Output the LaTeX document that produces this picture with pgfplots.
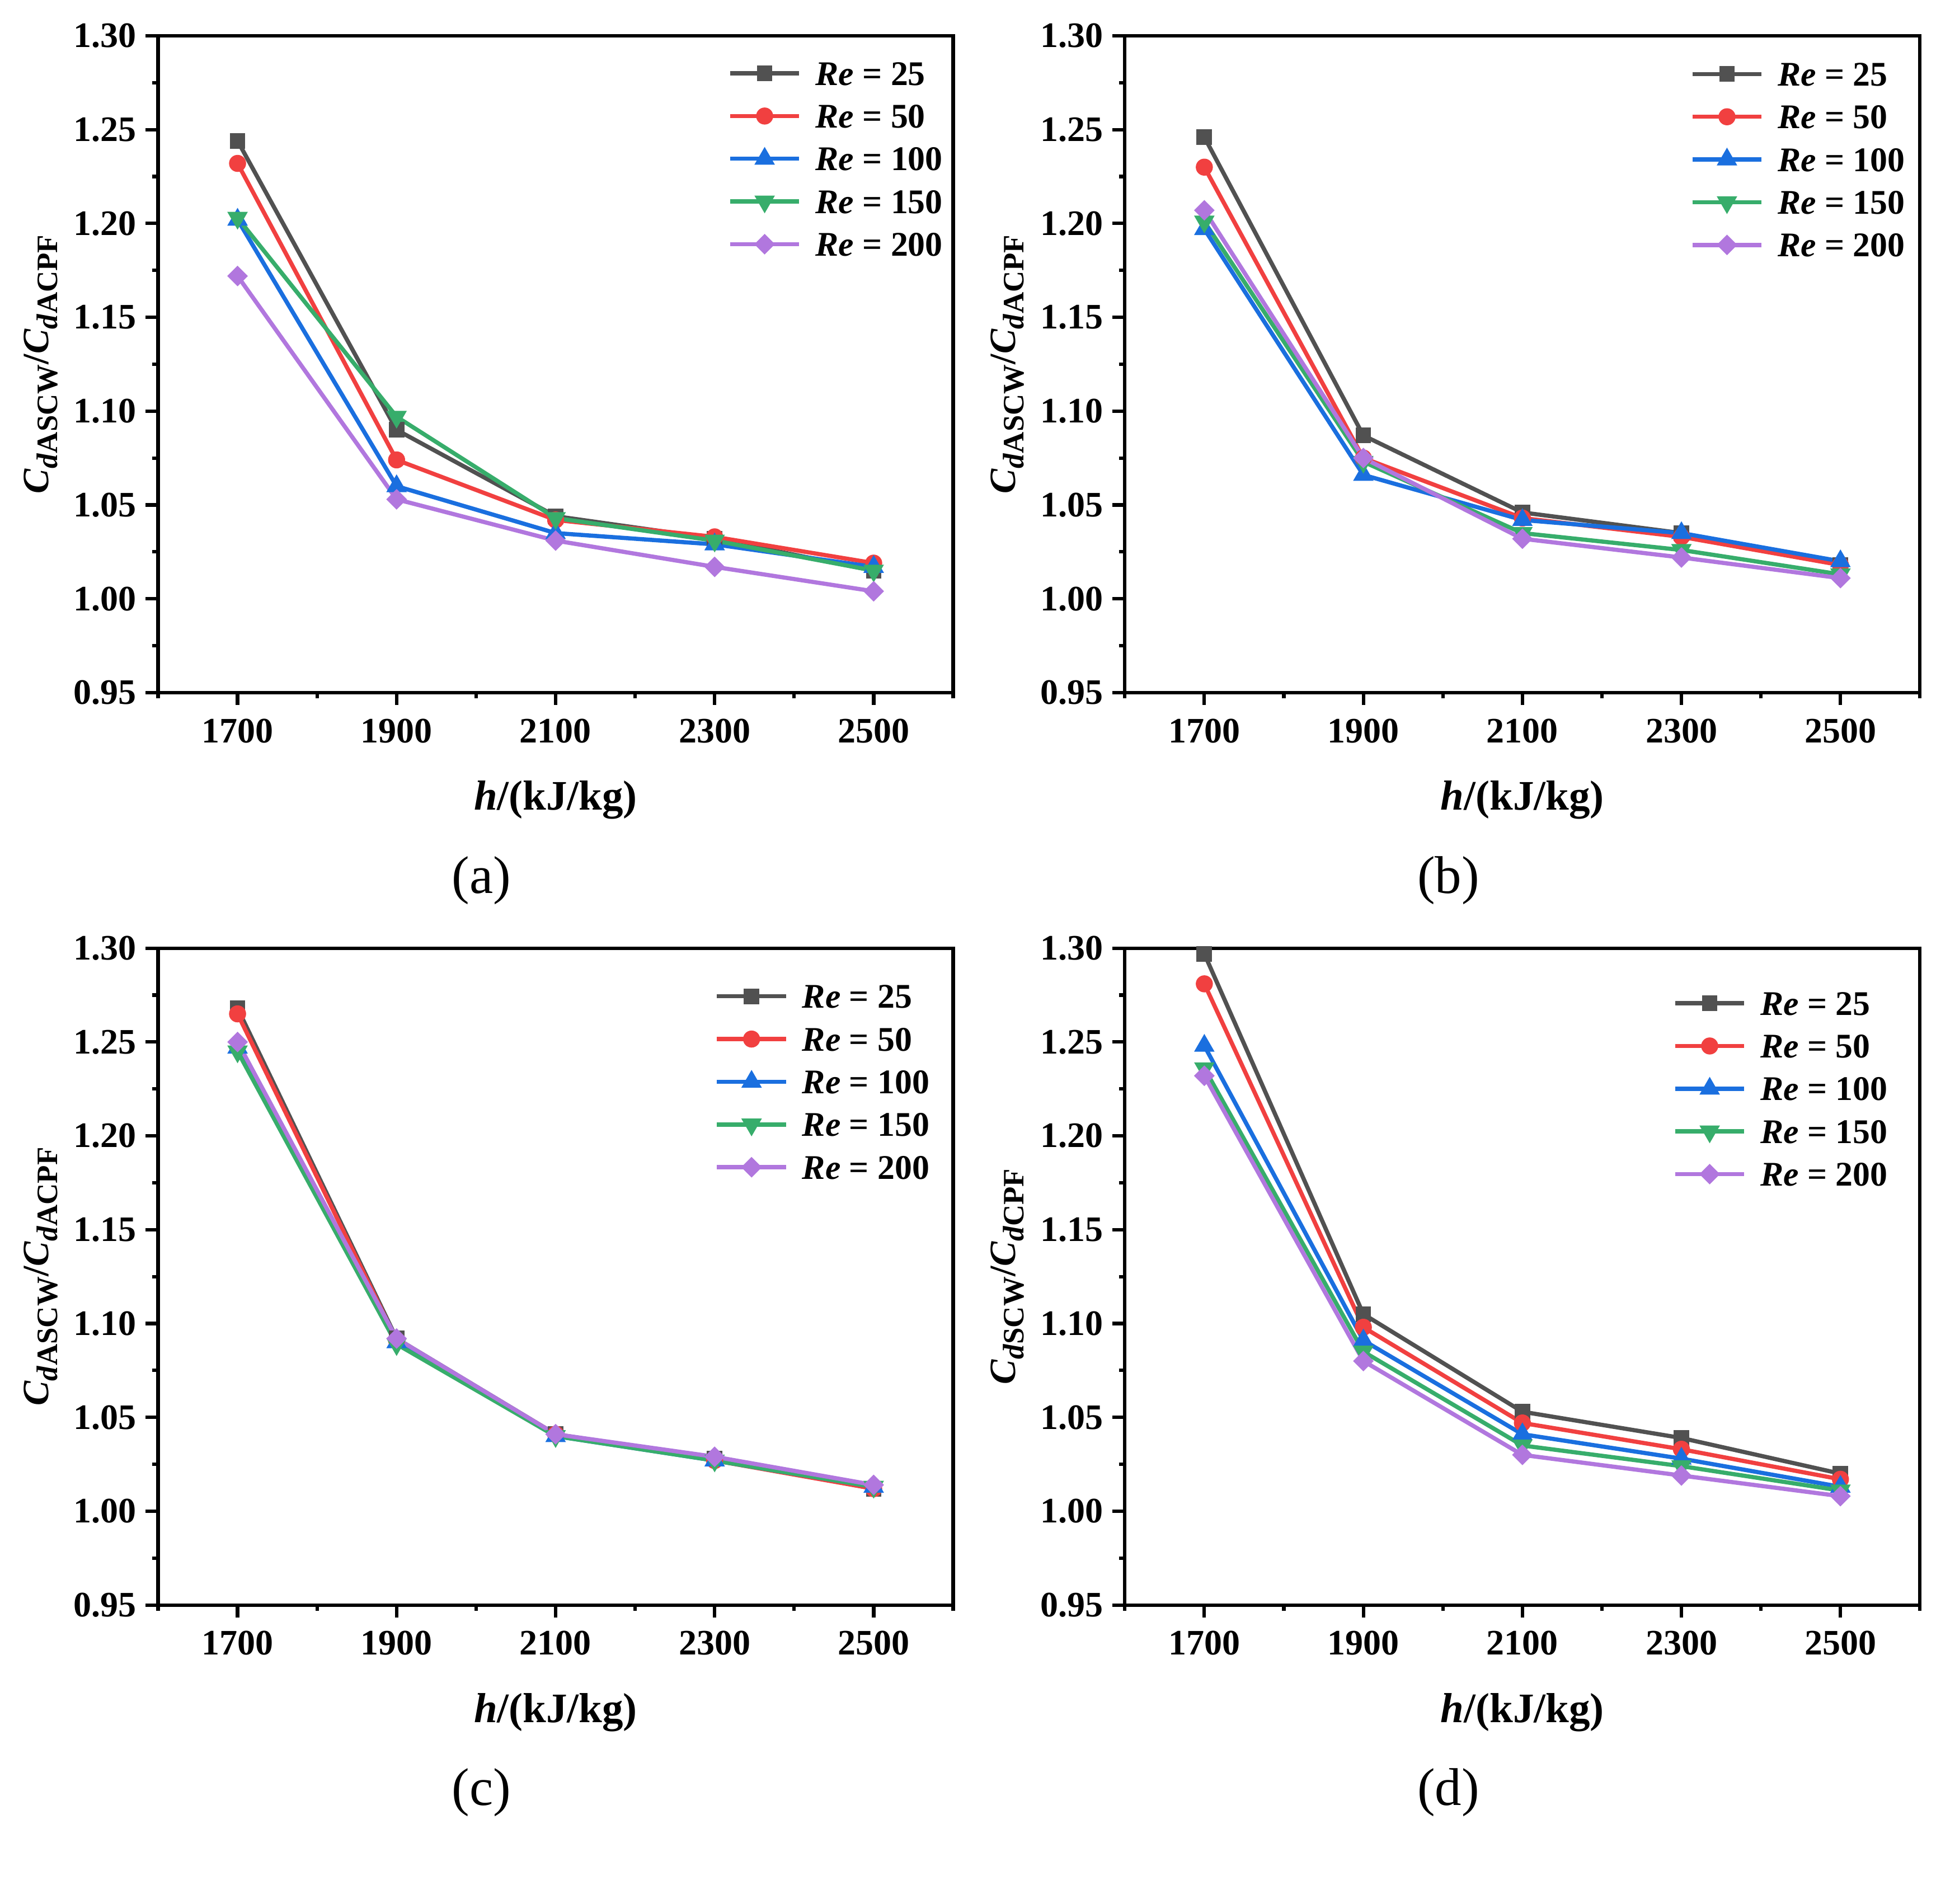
\documentclass[border=0pt]{standalone}
\usepackage{fontspec}
\setmainfont{Liberation Serif}
\usepackage{pgfplots}
\pgfplotsset{compat=1.18}
\definecolor{cA}{HTML}{515151}
\definecolor{cB}{HTML}{F14040}
\definecolor{cC}{HTML}{1A6FDF}
\definecolor{cD}{HTML}{37AD6B}
\definecolor{cE}{HTML}{B177DE}
\newcommand{\sub}[1]{\raisebox{-3.5pt}{\fontsize{12}{12}\selectfont #1}}
\pgfplotsset{
  panel/.style={
    scale only axis, width=322pt, height=266pt, anchor=south west,
    xmin=1600, xmax=2600, ymin=0.95, ymax=1.30,
    xtick={1700,1900,2100,2300,2500},
    xticklabels={1700,1900,2100,2300,2500},
    minor xtick={1600,1800,2000,2200,2400,2600},
    ytick={0.95,1.00,1.05,1.10,1.15,1.20,1.25,1.30},
    yticklabels={0.95,1.00,1.05,1.10,1.15,1.20,1.25,1.30},
    minor ytick={0.975,1.025,1.075,1.125,1.175,1.225,1.275},
    tick align=outside, tick pos=left,
    major tick length=5pt, minor tick length=2.4pt,
    every tick/.style={black, line width=1.4pt},
    axis line style={line width=1.4pt},
    ticklabel style={font=\fontsize{14.5}{14.5}\selectfont\bfseries},
    xticklabel style={anchor=center, yshift=-10.5pt},
    yticklabel style={anchor=east, inner sep=0pt, xshift=-3.6pt},
    xlabel={\textit{h}/(kJ/kg)},
    xlabel style={font=\fontsize{17}{17}\selectfont\bfseries, at={(axis description cs:0.5,-0.16353)}, anchor=center},
    ylabel style={font=\fontsize{15}{15}\selectfont\bfseries, at={(axis description cs:-0.14752,0.5)}, anchor=center},
    clip=false,
    every axis plot/.append style={line width=1.7pt},
    legend image code/.code={\draw[mark repeat=2,mark phase=2,#1] plot coordinates {(0pt,0pt)(14pt,0pt)(28pt,0pt)};},
    legend style={draw=none, fill=none, at={(axis description cs:0,1)}, anchor=north west,
      inner sep=0pt, outer sep=0pt, row sep=7.8pt, column sep=5.7pt,
      nodes={inner sep=0pt, text height=9.5pt, text depth=0pt, font=\fontsize{14}{14}\selectfont\bfseries}},
    legend cell align=left,
  },
  sA/.style={color=cA, mark=square*, mark size=3.0pt, mark options={solid, line width=0.3pt}},
  sB/.style={color=cB, mark=*, mark size=3.3pt, mark options={solid, line width=0.3pt}},
  sC/.style={color=cC, mark=triangle*, mark size=4.5pt, mark options={solid, line width=0.3pt}},
  sD/.style={color=cD, mark=triangle*, mark size=4.5pt, mark options={solid, line width=0.3pt, rotate=180}},
  sE/.style={color=cE, mark=square*, mark size=2.8pt, mark options={solid, line width=0.3pt, rotate=45}},
}
\begin{document}
\begin{tikzpicture}
\path[use as bounding box] (0,0) rectangle (784pt,771pt);
% (a)
\begin{axis}[panel, at={(64pt,490.5pt)},
  ylabel={\textit{C}\sub{\textit{d}ASCW}/\textit{C}\sub{\textit{d}ACPF}},
  legend style={xshift=230.8pt, yshift=-10.45pt}]
\addplot[sA] coordinates {(1700,1.244)(1900,1.090)(2100,1.044)(2300,1.032)(2500,1.015)};
\addplot[sB] coordinates {(1700,1.232)(1900,1.074)(2100,1.042)(2300,1.033)(2500,1.019)};
\addplot[sC] coordinates {(1700,1.202)(1900,1.060)(2100,1.035)(2300,1.029)(2500,1.017)};
\addplot[sD] coordinates {(1700,1.203)(1900,1.097)(2100,1.043)(2300,1.031)(2500,1.015)};
\addplot[sE] coordinates {(1700,1.172)(1900,1.053)(2100,1.031)(2300,1.017)(2500,1.004)};
\legend{\textit{Re} = 25,\textit{Re} = 50,\textit{Re} = 100,\textit{Re} = 150,\textit{Re} = 200}
\end{axis}
% (b)
\begin{axis}[panel, at={(455.5pt,490.5pt)},
  ylabel={\textit{C}\sub{\textit{d}ASCW}/\textit{C}\sub{\textit{d}ACPF}},
  legend style={xshift=229pt, yshift=-10.75pt}]
\addplot[sA] coordinates {(1700,1.246)(1900,1.087)(2100,1.046)(2300,1.035)(2500,1.018)};
\addplot[sB] coordinates {(1700,1.230)(1900,1.075)(2100,1.043)(2300,1.033)(2500,1.018)};
\addplot[sC] coordinates {(1700,1.197)(1900,1.066)(2100,1.042)(2300,1.035)(2500,1.020)};
\addplot[sD] coordinates {(1700,1.201)(1900,1.073)(2100,1.035)(2300,1.026)(2500,1.013)};
\addplot[sE] coordinates {(1700,1.207)(1900,1.075)(2100,1.032)(2300,1.022)(2500,1.011)};
\legend{\textit{Re} = 25,\textit{Re} = 50,\textit{Re} = 100,\textit{Re} = 150,\textit{Re} = 200}
\end{axis}
% (c)
\begin{axis}[panel, at={(64pt,121pt)},
  ylabel={\textit{C}\sub{\textit{d}ASCW}/\textit{C}\sub{\textit{d}ACPF}},
  legend style={xshift=225.5pt, yshift=-14.75pt}]
\addplot[sA] coordinates {(1700,1.268)(1900,1.092)(2100,1.041)(2300,1.028)(2500,1.012)};
\addplot[sB] coordinates {(1700,1.265)(1900,1.091)(2100,1.041)(2300,1.027)(2500,1.012)};
\addplot[sC] coordinates {(1700,1.247)(1900,1.090)(2100,1.040)(2300,1.027)(2500,1.013)};
\addplot[sD] coordinates {(1700,1.245)(1900,1.089)(2100,1.040)(2300,1.027)(2500,1.013)};
\addplot[sE] coordinates {(1700,1.250)(1900,1.092)(2100,1.041)(2300,1.029)(2500,1.014)};
\legend{\textit{Re} = 25,\textit{Re} = 50,\textit{Re} = 100,\textit{Re} = 150,\textit{Re} = 200}
\end{axis}
% (d)
\begin{axis}[panel, at={(455.5pt,121pt)},
  ylabel={\textit{C}\sub{\textit{d}SCW}/\textit{C}\sub{\textit{d}CPF}},
  legend style={xshift=222pt, yshift=-17.55pt}]
\addplot[sA] coordinates {(1700,1.297)(1900,1.105)(2100,1.053)(2300,1.039)(2500,1.020)};
\addplot[sB] coordinates {(1700,1.281)(1900,1.098)(2100,1.047)(2300,1.033)(2500,1.017)};
\addplot[sC] coordinates {(1700,1.248)(1900,1.091)(2100,1.041)(2300,1.028)(2500,1.013)};
\addplot[sD] coordinates {(1700,1.236)(1900,1.085)(2100,1.035)(2300,1.024)(2500,1.011)};
\addplot[sE] coordinates {(1700,1.232)(1900,1.080)(2100,1.030)(2300,1.019)(2500,1.008)};
\legend{\textit{Re} = 25,\textit{Re} = 50,\textit{Re} = 100,\textit{Re} = 150,\textit{Re} = 200}
\end{axis}
\node[font=\fontsize{21.5}{21.5}\selectfont] at (195pt,414.5pt) {(a)};
\node[font=\fontsize{21.5}{21.5}\selectfont] at (586.5pt,414.5pt) {(b)};
\node[font=\fontsize{21.5}{21.5}\selectfont] at (195pt,45pt) {(c)};
\node[font=\fontsize{21.5}{21.5}\selectfont] at (586.5pt,45pt) {(d)};
\end{tikzpicture}
\end{document}
